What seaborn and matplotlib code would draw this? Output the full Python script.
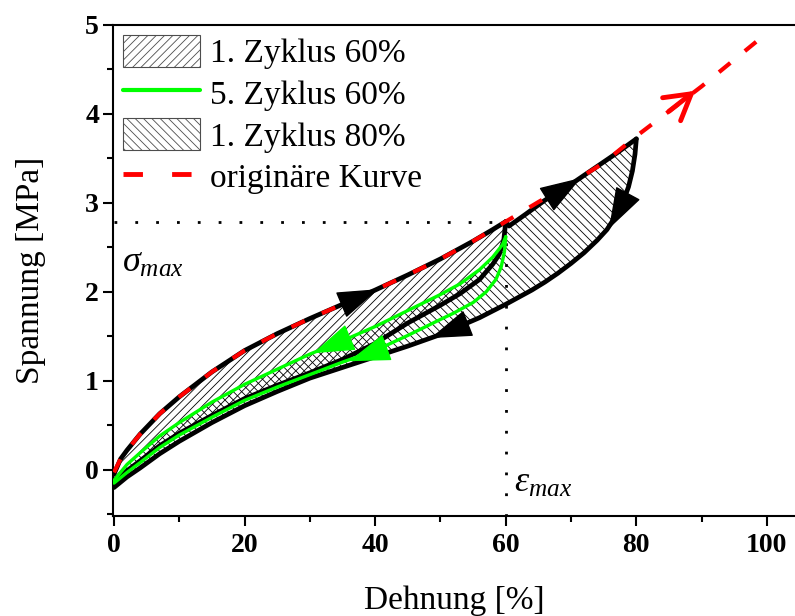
import matplotlib
matplotlib.use("Agg")
import matplotlib.pyplot as plt
import seaborn as sns
from matplotlib.patches import Patch
from matplotlib.lines import Line2D

# ---------------- data ----------------
# original (monotonic) curve
orig_x = [0, 1, 2, 4, 7, 10, 15, 20, 25, 30, 35, 40, 45, 50, 55, 60, 65, 70, 75, 80, 90, 98.5]
orig_y = [-0.03, 0.12, 0.22, 0.40, 0.63, 0.82, 1.10, 1.34, 1.53, 1.70, 1.86, 2.02, 2.19, 2.37, 2.57, 2.79,
          3.01, 3.22, 3.45, 3.75, 4.31, 4.82]

# 1st cycle 60 %: loading / unloading
load60_x = [0, 1, 2, 4, 7, 10, 15, 20, 25, 30, 35, 40, 45, 50, 55, 58, 60]
load60_y = [-0.05, 0.12, 0.22, 0.40, 0.63, 0.82, 1.10, 1.34, 1.53, 1.70, 1.86, 2.02, 2.19, 2.37, 2.57, 2.70, 2.79]
unload60_x = [60, 59.7, 59, 58, 56, 53, 50, 45, 40, 35, 30, 25, 20, 15, 10, 7, 4, 2, 0]
unload60_y = [2.79, 2.58, 2.42, 2.31, 2.14, 1.98, 1.85, 1.65, 1.42, 1.24, 1.09, 0.95, 0.80, 0.61, 0.41, 0.27, 0.10, -0.01, -0.15]

# 5th cycle 60 %
green_up_x = [0, 2, 4, 7, 10, 15, 20, 25, 30, 35, 40, 45, 50, 53, 56, 58, 59.5, 60]
green_up_y = [-0.12, 0.06, 0.19, 0.38, 0.53, 0.76, 0.96, 1.13, 1.30, 1.45, 1.61, 1.79, 1.97, 2.09, 2.25, 2.39, 2.53, 2.62]
green_down_x = [60, 59.8, 59.3, 58.5, 57, 55, 52, 50, 45, 40, 35, 30, 25, 20, 15, 10, 7, 4, 2, 0]
green_down_y = [2.62, 2.45, 2.28, 2.14, 2.00, 1.88, 1.76, 1.69, 1.51, 1.34, 1.21, 1.07, 0.93, 0.78, 0.59, 0.39, 0.25, 0.08, -0.03, -0.15]

# 1st cycle 80 %: loading beyond 60 %, unloading
load80_x = [60, 60.5, 63, 66, 70, 74, 77, 80]
load80_y = [2.79, 2.74, 2.87, 3.03, 3.21, 3.41, 3.56, 3.72]
unload80_x = [80, 79.8, 79.4, 78.8, 78, 77, 75.5, 74, 72, 70, 68, 66, 64, 62, 60, 56, 50, 45, 40, 35, 30,
              25, 20, 15, 10, 7, 4, 2, 0]
unload80_y = [3.72, 3.55, 3.36, 3.18, 3.02, 2.87, 2.70, 2.58, 2.44, 2.32, 2.21, 2.11, 2.02, 1.94, 1.86,
              1.71, 1.52, 1.39, 1.27, 1.15, 1.03, 0.88, 0.72, 0.53, 0.32, 0.18, 0.02, -0.08, -0.20]

sigma_max = 2.78
eps_max = 60

x_ticks = [0, 20, 40, 60, 80, 100]
y_ticks = [0, 1, 2, 3, 4, 5]
legend_labels = ["1. Zyklus 60%", "5. Zyklus 60%", "1. Zyklus 80%", "originäre Kurve"]

# ---------------- style ----------------
sns.set_theme(style="ticks")
plt.rcParams["font.family"] = ["Liberation Serif", "DejaVu Serif"]
plt.rcParams["mathtext.fontset"] = "custom"
plt.rcParams["mathtext.rm"] = "Liberation Serif"
plt.rcParams["mathtext.it"] = "Liberation Serif:italic"
plt.rcParams["hatch.linewidth"] = 0.6
for key in ["text.color", "axes.labelcolor", "xtick.color", "ytick.color", "axes.edgecolor"]:
    plt.rcParams[key] = "black"

GREEN = "#00ff00"
RED = "#ff0000"

fig = plt.figure(figsize=(7.95, 6.16), dpi=100)
ax = fig.add_axes([113 / 795, 100 / 616, 682 / 795, 491 / 616])

# ---------------- hatched areas ----------------
p80_x = load60_x + load80_x[1:] + unload80_x
p80_y = load60_y + load80_y[1:] + unload80_y
ax.fill(p80_x, p80_y, facecolor="white", edgecolor="black", hatch="\\\\\\\\", lw=0, zorder=1)

ptop_x = load60_x + green_up_x[::-1]
ptop_y = load60_y + green_up_y[::-1]
ax.fill(ptop_x, ptop_y, facecolor="white", edgecolor="black", hatch="////", lw=0, zorder=1.1)

pcr_x = green_up_x + unload60_x
pcr_y = green_up_y + unload60_y
ax.fill(pcr_x, pcr_y, facecolor="none", edgecolor="black", hatch="////", lw=0, zorder=1.2)

# ---------------- guide lines ----------------
ax.plot([0, eps_max], [sigma_max, sigma_max], color="black", lw=2, linestyle=(0, (1, 6.5)), zorder=1.5)
ax.plot([eps_max, eps_max], [sigma_max, -0.55], color="black", lw=2, linestyle=(0, (1, 6.5)), zorder=1.5)

# ---------------- curves ----------------
BLW = 3.4
sns.lineplot(x=unload80_x, y=unload80_y, sort=False, estimator=None, color="black", linewidth=BLW, ax=ax, zorder=2)
sns.lineplot(x=load80_x, y=load80_y, sort=False, estimator=None, color="black", linewidth=BLW, ax=ax, zorder=2)
sns.lineplot(x=unload60_x, y=unload60_y, sort=False, estimator=None, color="black", linewidth=BLW, ax=ax, zorder=2)
sns.lineplot(x=load60_x, y=load60_y, sort=False, estimator=None, color="black", linewidth=BLW, ax=ax, zorder=2)
sns.lineplot(x=green_up_x, y=green_up_y, sort=False, estimator=None, color=GREEN, linewidth=2.4, ax=ax, zorder=3)
sns.lineplot(x=green_down_x, y=green_down_y, sort=False, estimator=None, color=GREEN, linewidth=2.4, ax=ax, zorder=3)
sns.lineplot(x=orig_x, y=orig_y, sort=False, estimator=None, color=RED, linewidth=3,
             linestyle=(0, (3.5, 4.5)), ax=ax, zorder=4)

# ---------------- arrows ----------------
def arrow(tail, tip, color, style="-|>,head_length=0.9,head_width=0.3", lw=1, ms=30):
    ax.annotate("", xy=tip, xytext=tail,
                arrowprops=dict(arrowstyle=style, color=color, lw=lw, mutation_scale=ms,
                                shrinkA=0, shrinkB=0), zorder=5)

arrow((35, 1.86), (40.5, 2.03), "black")
arrow((66.5, 3.05), (71.5, 3.28), "black")
arrow((78.3, 3.05), (75.8, 2.71), "black")
arrow((53, 1.61), (48.5, 1.48), "black")
arrow((35, 1.45), (30.5, 1.31), GREEN)
arrow((40.5, 1.34), (36, 1.22), GREEN)
arrow((85, 4.03), (89, 4.26), RED, style="->,head_length=0.6,head_width=0.35", lw=3.5, ms=30)

# ---------------- annotations ----------------
ax.text(1.3, 2.22, r"$\sigma_{max}$", fontsize=26, zorder=6)
ax.text(61.3, -0.25, r"$\varepsilon_{max}$", fontsize=26, zorder=6)

# ---------------- axes ----------------
ax.set_xlim(-0.15, 104.3)
ax.set_ylim(-0.52, 5.0)
ax.set_xticks(x_ticks, labels=[str(v) for v in x_ticks], fontsize=20, fontweight="bold")
ax.set_yticks(y_ticks, labels=[str(v) for v in y_ticks], fontsize=20, fontweight="bold")
ax.set_xticks([10, 30, 50, 70, 90], minor=True)
ax.set_yticks([-0.5, 0.5, 1.5, 2.5, 3.5, 4.5], minor=True)
ax.tick_params(which="major", direction="out", length=7, width=1.5, pad=3, color="black")
ax.tick_params(which="minor", direction="out", length=4, width=1.5, color="black")
ax.tick_params(axis="x", which="major", pad=5)

for side in ["left", "bottom", "top"]:
    ax.spines[side].set_linewidth(1.5)
    ax.spines[side].set_color("black")
ax.spines["right"].set_visible(False)

ax.set_xlabel("Dehnung [%]", fontsize=24, labelpad=20)
ax.set_ylabel("Spannung [MPa]", fontsize=24, labelpad=28)

handles = [
    Patch(facecolor="white", edgecolor="0.3", hatch="////", lw=0.8),
    Line2D([], [], color=GREEN, lw=3),
    Patch(facecolor="white", edgecolor="0.3", hatch="\\\\\\\\", lw=0.8),
    Line2D([], [], color=RED, lw=3.5, linestyle=(0, (4, 6))),
]
ax.legend(handles, legend_labels, loc="upper left", bbox_to_anchor=(0.0, 1.0), frameon=False,
          fontsize=24, handlelength=2.3, handleheight=1.1, labelspacing=0.22,
          handletextpad=0.3, borderaxespad=0.1, borderpad=0.2)

fig.savefig("out.png", dpi=100)
